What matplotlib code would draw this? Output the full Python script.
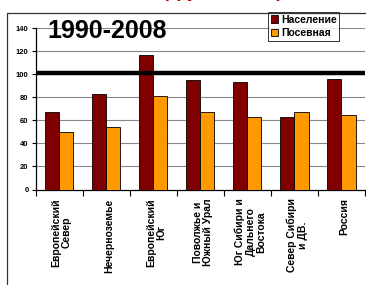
import matplotlib
matplotlib.use("Agg")
import matplotlib.pyplot as plt
from matplotlib.patches import Rectangle
import numpy as np

categories = ["Европейский\nСевер", "Нечерноземье", "Европейский\nЮг",
              "Поволжье и\nЮжный Урал", "Юг Сибири и\nДальнего\nВостока",
              "Север Сибири\nи ДВ.", "Россия"]
naselenie = [67, 83, 117, 95, 93, 63, 96]
posevnaya = [50, 54, 81, 67, 63, 67, 65]
yticks = [0, 20, 40, 60, 80, 100, 120, 140]
ref_level = 101
period = "1990-2008"
series_names = ["Население", "Посевная"]

plt.rcParams['font.family'] = ['Liberation Sans', 'DejaVu Sans']

W, H = 366, 285
fig = plt.figure(figsize=(W / 100, H / 100), dpi=100)
fig.patch.set_facecolor("white")

# outer chart frame
frame = Rectangle((7.5 / W, -0.1), 1.2, (H - 12.5) / H + 0.1, transform=fig.transFigure,
                  fill=False, edgecolor="#333333", linewidth=0.9)
fig.patches.append(frame)

# red title, mostly above the visible area (only its lower edge shows)
fig.text(163 / W, 1 + 2.6 / H, "(группы, в %)", color="#B00000", fontsize=13,
         fontweight="bold", ha="left", va="baseline")

ax = fig.add_axes([35.5 / W, (H - 189.5) / H, (365 - 35.5) / W, (189.5 - 28.3) / H])
ax.set_facecolor("white")

x = np.arange(len(categories))
bw = 0.30
ax.bar(x - bw / 2, naselenie, bw, color="#800000", edgecolor="black", linewidth=0.6,
       label=series_names[0], zorder=3)
ax.bar(x + bw / 2, posevnaya, bw, color="#FF9900", edgecolor="black", linewidth=0.6,
       label=series_names[1], zorder=3)

ax.axhline(ref_level, color="black", linewidth=3.2, zorder=4)

ax.set_xlim(-0.5, len(categories) - 0.5)
ax.set_ylim(0, 140)
ax.set_yticks(yticks)
ax.set_yticklabels([str(v) for v in yticks], fontsize=5.5, fontweight="bold")
for v in yticks[1:]:
    if v != 100:
        ax.axhline(v, color="#888888", linewidth=0.8, zorder=1)

ax.set_xticks(np.arange(len(categories) + 1) - 0.5)
ax.set_xticklabels([])
ax.tick_params(axis="x", direction="out", length=4, width=0.8, color="black")
ax.tick_params(axis="y", direction="out", length=3, width=0.8, color="black", pad=2)
for i, c in enumerate(categories):
    ax.text(i + 0.06, -0.055, c, transform=ax.get_xaxis_transform(), rotation=90,
            ha="center", va="top", multialignment="center", fontsize=7.5,
            fontweight="bold", linespacing=1.05)

for s in ["top", "right"]:
    ax.spines[s].set_visible(False)
ax.spines["left"].set_color("black")
ax.spines["bottom"].set_color("black")
ax.spines["left"].set_linewidth(0.9)
ax.spines["bottom"].set_linewidth(0.9)

ax.text(47 / W, 1 - 38.5 / H, period, transform=fig.transFigure, fontsize=18,
        fontweight="bold", ha="left", va="baseline", zorder=6)

leg = ax.legend(loc="upper left", bbox_to_anchor=(268 / W, 1 - 12 / H),
                bbox_transform=fig.transFigure, fontsize=7.5, frameon=True,
                fancybox=False, handlelength=0.7, handleheight=0.7, handletextpad=0.3,
                borderpad=0.25, labelspacing=0.35, borderaxespad=0)
leg.get_frame().set_edgecolor("black")
leg.get_frame().set_linewidth(0.7)
for t in leg.get_texts():
    t.set_fontweight("bold")
leg.set_zorder(10)

fig.savefig("out.png", dpi=100, facecolor="white")
